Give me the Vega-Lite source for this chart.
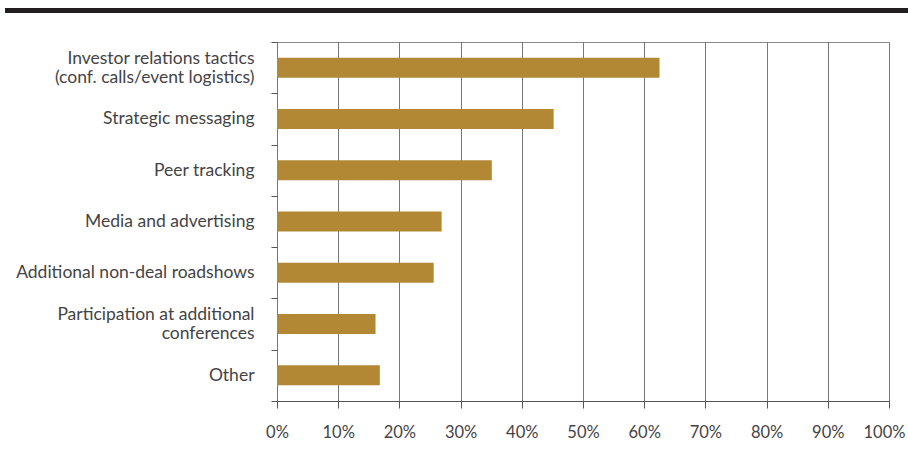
{
  "$schema": "https://vega.github.io/schema/vega-lite/v6.json",
  "padding": {"left": 4, "top": 8, "right": 0, "bottom": 0},
  "background": "white",
  "spacing": 19,
  "config": {"view": {"stroke": null}, "font": "Lato"},
  "vconcat": [
    {
      "width": 612,
      "height": 5,
      "data": {"values": [{"start": -0.4444, "end": 1.0327}]},
      "mark": {"type": "rect", "color": "#231f20", "clip": false},
      "encoding": {
        "x": {"field": "start", "type": "quantitative", "scale": {"domain": [0, 1], "nice": false, "zero": false}, "axis": null},
        "x2": {"field": "end"}
      }
    },
    {
      "width": 612,
      "height": 359,
      "view": {"stroke": "#888", "strokeWidth": 1},
      "data": {"values": [
        {"category": "Investor relations tactics|(conf. calls/event logistics)", "value": 0.625},
        {"category": "Strategic messaging", "value": 0.452},
        {"category": "Peer tracking", "value": 0.351},
        {"category": "Media and advertising", "value": 0.269},
        {"category": "Additional non-deal roadshows", "value": 0.256},
        {"category": "Participation at additional|conferences", "value": 0.161},
        {"category": "Other", "value": 0.168}
      ]},
      "mark": {"type": "bar", "color": "#B38835", "size": 20},
      "encoding": {
        "y": {
          "field": "category", "type": "nominal",
          "sort": ["Investor relations tactics|(conf. calls/event logistics)", "Strategic messaging", "Peer tracking", "Media and advertising", "Additional non-deal roadshows", "Participation at additional|conferences", "Other"],
          "scale": {"paddingInner": 0, "paddingOuter": 0},
          "axis": {
            "title": null, "tickBand": "extent", "tickSize": 6, "tickColor": "#555", "domain": false,
            "labelFontSize": 17.5, "labelColor": "#444", "labelPadding": 17, "labelLineHeight": 19,
            "labelExpr": "split(datum.label, '|')", "minExtent": 272, "maxExtent": 272, "labelLimit": 300,
            "labelOffset": {"condition": {"test": "indexof(datum.label, '|') >= 0", "value": -9.5}, "value": 0}
          }
        },
        "x": {
          "field": "value", "type": "quantitative",
          "scale": {"domain": [0, 1], "nice": false},
          "axis": {
            "title": null, "format": ".0%", "values": [0, 0.1, 0.2, 0.3, 0.4, 0.5, 0.6, 0.7, 0.8, 0.9, 1],
            "grid": true, "gridColor": "#777", "domainColor": "#555", "tickColor": "#555", "tickSize": 7,
            "labelFontSize": 16.5, "labelColor": "#444", "labelPadding": 16, "labelFlush": false, "labelBound": false,
            "labelOffset": {"condition": {"test": "datum.value === 1", "value": -5}, "value": 0}
          }
        }
      }
    }
  ]
}
